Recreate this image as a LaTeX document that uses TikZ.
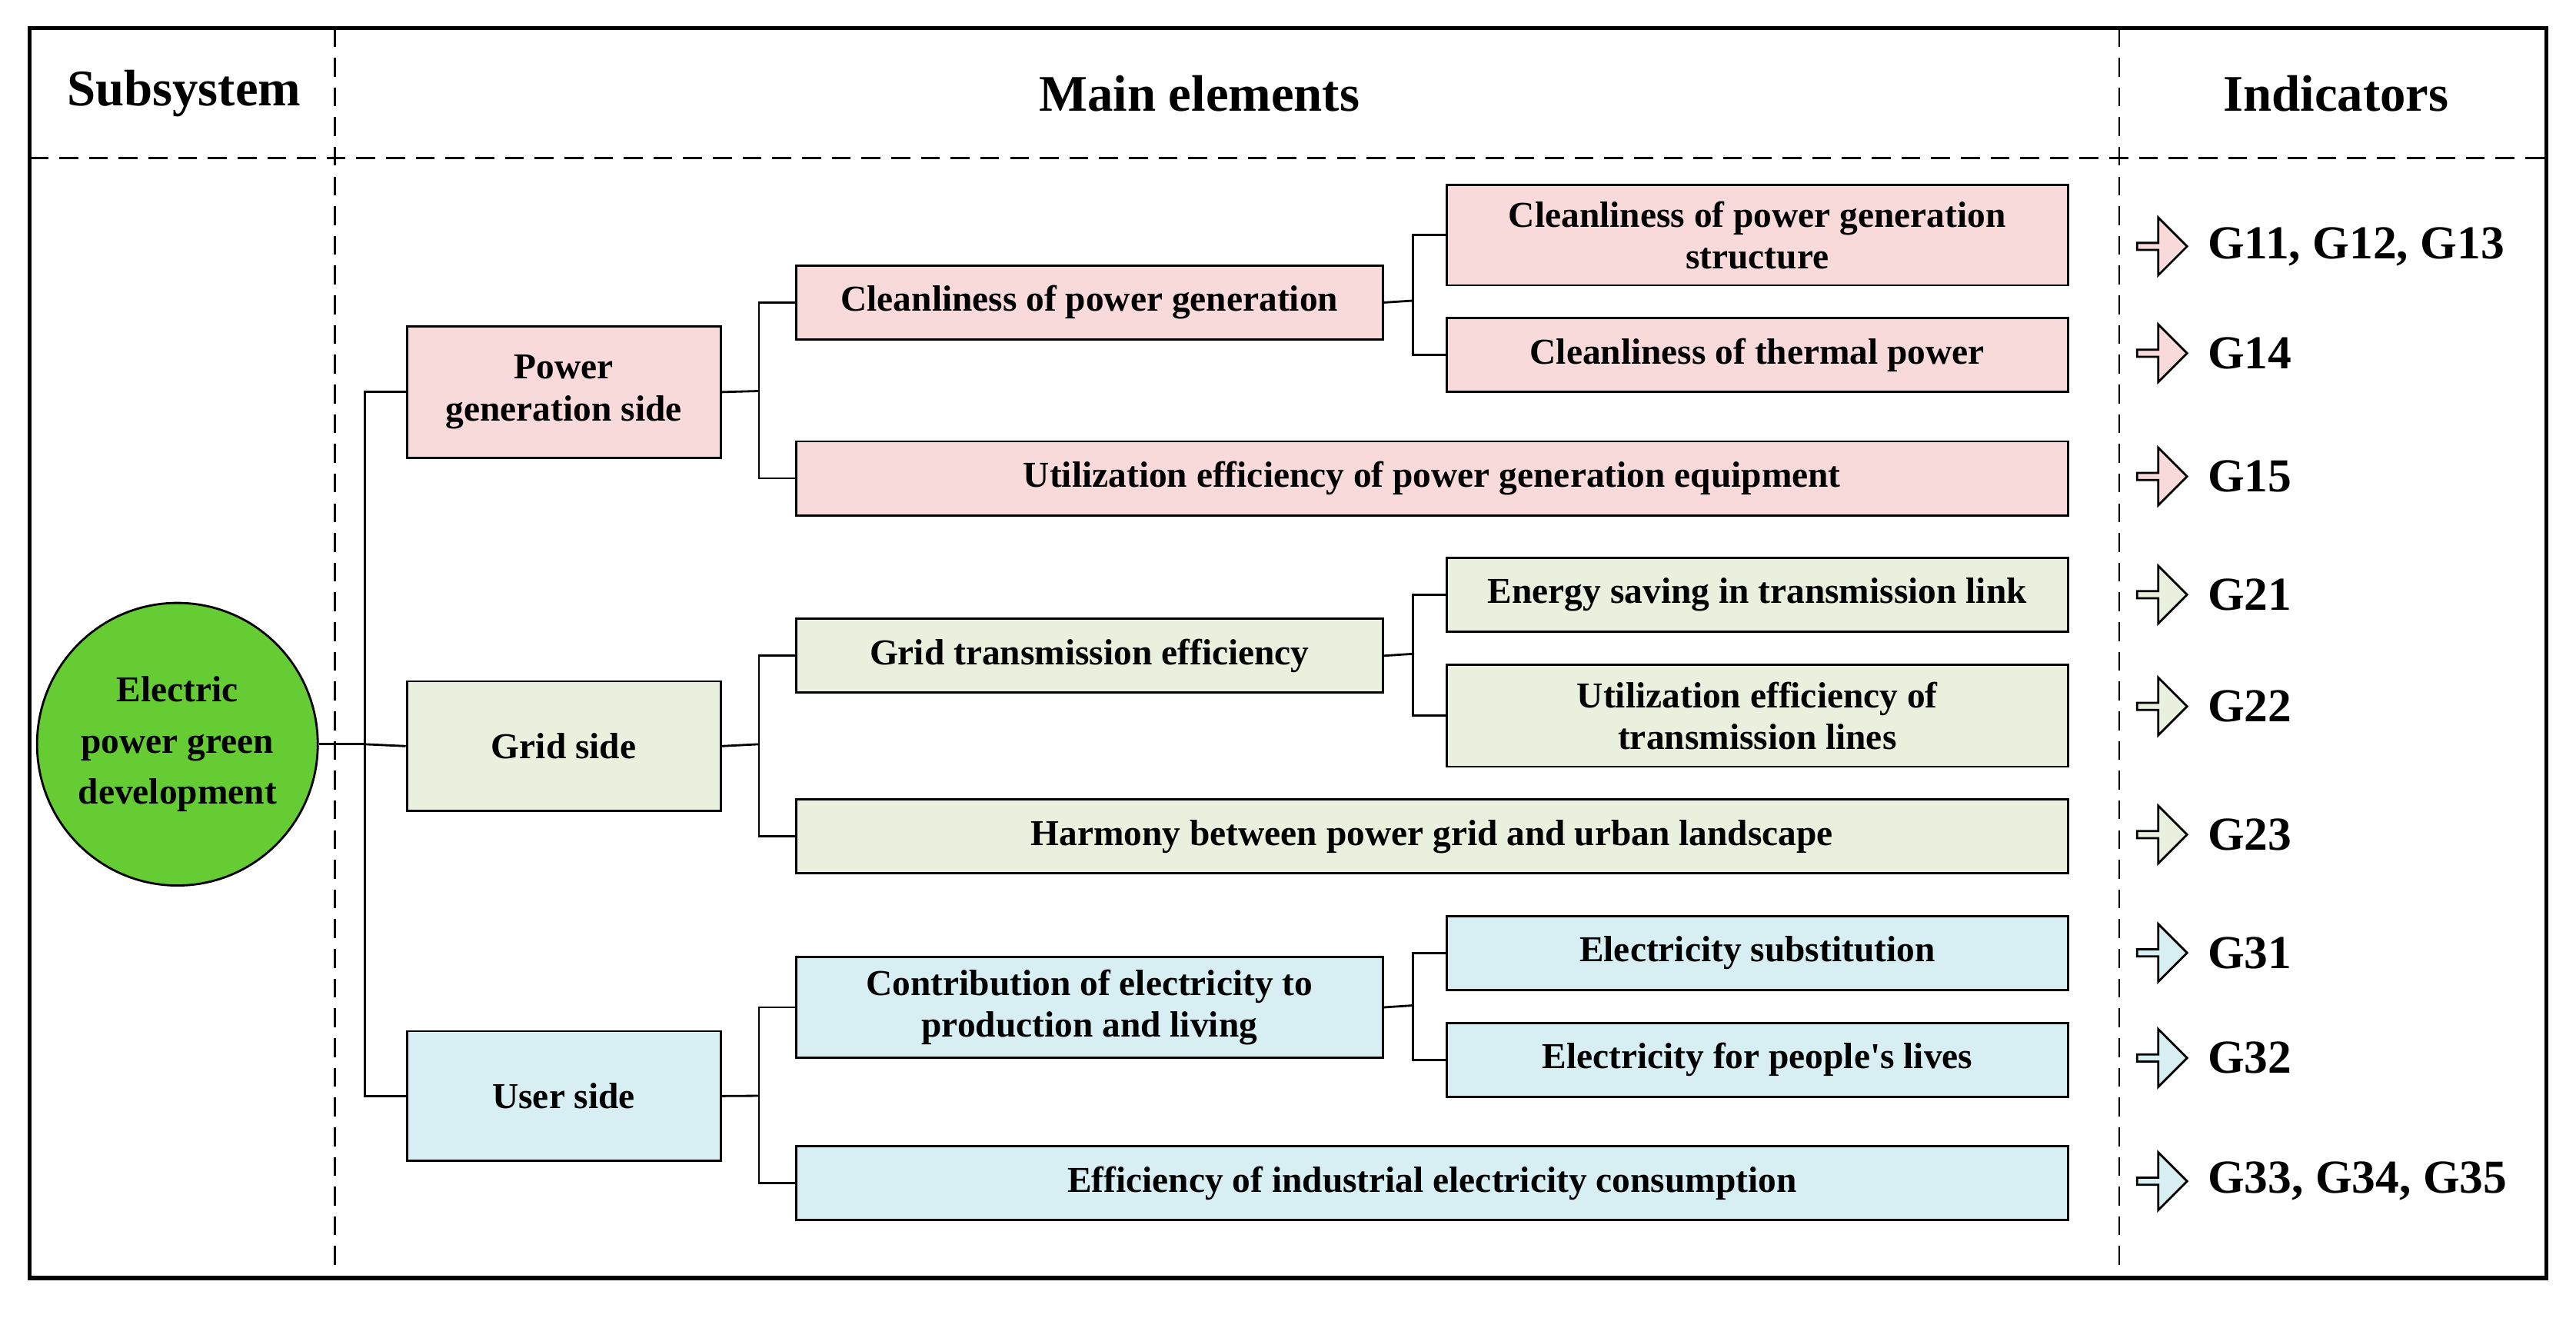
\documentclass[tikz,border=0pt]{standalone}
\usepackage{fontspec}
\setmainfont{Liberation Serif}
\usetikzlibrary{shapes.geometric,shapes.arrows}
\definecolor{pinkbox}{RGB}{248,218,218}
\definecolor{greenbox}{RGB}{233,241,222}
\definecolor{bluebox}{RGB}{215,238,243}
\definecolor{greenell}{RGB}{102,204,51}
\begin{document}
\begin{tikzpicture}[x=0.02137cm,y=-0.02137cm,
  box/.style={draw,thick,font=\bfseries\fontsize{13.5}{15.5}\selectfont,align=center,inner sep=0pt,anchor=north west},
  head/.style={font=\bfseries\fontsize{19}{22}\selectfont},
  ind/.style={font=\bfseries\fontsize{17.5}{20}\selectfont,anchor=west},
  arr/.style={single arrow,draw,thick,minimum height=0.65cm,minimum width=0.75cm,single arrow head extend=0.1cm,inner sep=0pt},
  sep/.style={thick,dash pattern=on 7pt off 4pt},
  link/.style={thick}]
\useasboundingbox (0,0) rectangle (1568,802);
\draw[line width=1.6pt] (18,17) rectangle (1550,778);
\draw[sep] (18,96) -- (1550,96);
\draw[sep] (204,17) -- (204,778);
\draw[sep] (1290,17) -- (1290,778);
  \node[head] (h1) at (112,57) {Subsystem};
  \node[head] (h2) at (730,57) {Main elements};
  \node[head] (h3) at (1422,57) {Indicators};
  % root
  \node[ellipse,draw,thick,fill=greenell,minimum width=160*0.02137cm,minimum height=172*0.02137cm,align=center,inner sep=0pt,font=\bfseries\fontsize{13.5}{19}\selectfont] (root) at (108,453) {Electric\\power green\\development};
  % first level
  \node[box,fill=pinkbox,minimum width=191*0.02137cm,minimum height=80*0.02137cm] (p1) at (247,198) {Power\\generation side};
  \node[box,fill=greenbox,minimum width=191*0.02137cm,minimum height=79*0.02137cm] (g1) at (247,414) {Grid side};
  \node[box,fill=bluebox,minimum width=191*0.02137cm,minimum height=79*0.02137cm] (u1) at (247,627) {User side};
  % second level
  \node[box,fill=pinkbox,minimum width=357*0.02137cm,minimum height=45*0.02137cm] (p2a) at (484,161) {Cleanliness of power generation};
  \node[box,fill=pinkbox,minimum width=774*0.02137cm,minimum height=45*0.02137cm] (p2b) at (484,268) {Utilization efficiency of power generation equipment};
  \node[box,fill=greenbox,minimum width=357*0.02137cm,minimum height=45*0.02137cm] (g2a) at (484,376) {Grid transmission efficiency};
  \node[box,fill=greenbox,minimum width=774*0.02137cm,minimum height=45*0.02137cm] (g2b) at (484,486) {Harmony between power grid and urban landscape};
  \node[box,fill=bluebox,minimum width=357*0.02137cm,minimum height=61*0.02137cm] (u2a) at (484,582) {Contribution of electricity to\\production and living};
  \node[box,fill=bluebox,minimum width=774*0.02137cm,minimum height=45*0.02137cm] (u2b) at (484,697) {Efficiency of industrial electricity consumption};
  % third level
  \node[box,fill=pinkbox,minimum width=378*0.02137cm,minimum height=61*0.02137cm] (p3a) at (880,112) {Cleanliness of power generation\\structure};
  \node[box,fill=pinkbox,minimum width=378*0.02137cm,minimum height=45*0.02137cm] (p3b) at (880,193) {Cleanliness of\ thermal power};
  \node[box,fill=greenbox,minimum width=378*0.02137cm,minimum height=45*0.02137cm] (g3a) at (880,339) {Energy saving in transmission link};
  \node[box,fill=greenbox,minimum width=378*0.02137cm,minimum height=62*0.02137cm] (g3b) at (880,404) {Utilization efficiency of\\transmission lines};
  \node[box,fill=bluebox,minimum width=378*0.02137cm,minimum height=45*0.02137cm] (u3a) at (880,557) {Electricity substitution};
  \node[box,fill=bluebox,minimum width=378*0.02137cm,minimum height=45*0.02137cm] (u3b) at (880,622) {Electricity for people\textquotesingle s lives};
  % junctions
  \coordinate (j0) at (222,453);
  \coordinate (jp) at (462,238);
  \coordinate (jg) at (462,453);
  \coordinate (ju) at (462,667);
  \coordinate (jpa) at (860,183);
  \coordinate (jga) at (860,398);
  \coordinate (jua) at (860,612);
  \draw[link] (root.east) -- (j0);
  \draw[link] (j0) |- (p1.west);
  \draw[link] (j0) |- (u1.west);
  \draw[link] (j0) -- (g1.west);
  \draw[link] (p1.east) -- (jp);
  \draw[link] (jp) |- (p2a.west);
  \draw[link] (jp) |- (p2b.west);
  \draw[link] (g1.east) -- (jg);
  \draw[link] (jg) |- (g2a.west);
  \draw[link] (jg) |- (g2b.west);
  \draw[link] (u1.east) -- (ju);
  \draw[link] (ju) |- (u2a.west);
  \draw[link] (ju) |- (u2b.west);
  \draw[link] (p2a.east) -- (jpa);
  \draw[link] (jpa) |- (p3a.west);
  \draw[link] (jpa) |- (p3b.west);
  \draw[link] (g2a.east) -- (jga);
  \draw[link] (jga) |- (g3a.west);
  \draw[link] (jga) |- (g3b.west);
  \draw[link] (u2a.east) -- (jua);
  \draw[link] (jua) |- (u3a.west);
  \draw[link] (jua) |- (u3b.west);
  % indicators
  \foreach \y/\c/\t [count=\i] in {150/pinkbox/{G11, G12, G13},215/pinkbox/G14,290/pinkbox/G15,
      362/greenbox/G21,430/greenbox/G22,508/greenbox/G23,
      580/bluebox/G31,644/bluebox/G32,719/bluebox/{G33, G34, G35}}{
    \node[arr,fill=\c] (a\i) at (1315,\y) {};
    \node[ind] (t\i) at (1338,\y) {\t};
  }
\end{tikzpicture}
\end{document}
